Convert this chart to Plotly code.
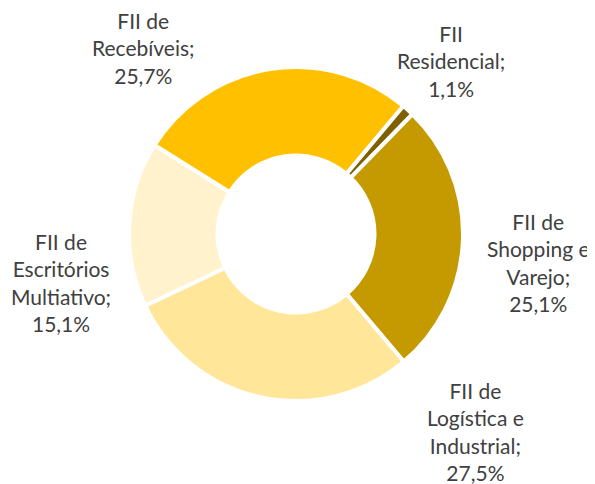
import plotly.graph_objects as go

# Data (clockwise from the upper-left slice)
categories = ["FII de<br>Recebíveis", "FII<br>Residencial", "FII de<br>Shopping e<br>Varejo",
              "FII de<br>Logística e<br>Industrial", "FII de<br>Escritórios<br>Multiativo"]
shares = [25.7, 1.1, 25.1, 27.5, 15.1]
share_labels = ["25,7%", "1,1%", "25,1%", "27,5%", "15,1%"]

slice_colors = ["#FFC000", "#7F6000", "#C49A00", "#FFE699", "#FFF2CC"]

# label centres in window pixels (x from left, y from top)
label_px = [(143, 48), (451, 61), (538, 262), (475, 431), (61, 282)]

W, H = 595, 484
OFF = 8  # page body margin pushes the figure down/right


def fx(px):
    return (px - OFF) / W


def fy(py):
    return 1 - (py - OFF) / H


fig = go.Figure()
fig.add_trace(go.Pie(
    labels=categories,
    values=shares,
    sort=False,
    direction="clockwise",
    rotation=-57.9,
    hole=0.47,
    textinfo="none",
    hoverinfo="label+value",
    marker=dict(colors=slice_colors, line=dict(color="white", width=4)),
    domain=dict(x=[fx(129), fx(463)], y=[fy(401), fy(67)]),
    showlegend=False,
))

for cat, lab, (px, py) in zip(categories, share_labels, label_px):
    fig.add_annotation(
        x=fx(px), y=fy(py), xref="paper", yref="paper",
        text=f"{cat};<br>{lab}", showarrow=False,
        xanchor="center", yanchor="middle", align="center",
        font=dict(family="Lato", size=21, color="#404040"),
    )

fig.update_layout(
    width=W, height=H,
    margin=dict(l=0, r=0, t=0, b=0),
    paper_bgcolor="white",
    plot_bgcolor="white",
)

fig.write_html("out.html")
